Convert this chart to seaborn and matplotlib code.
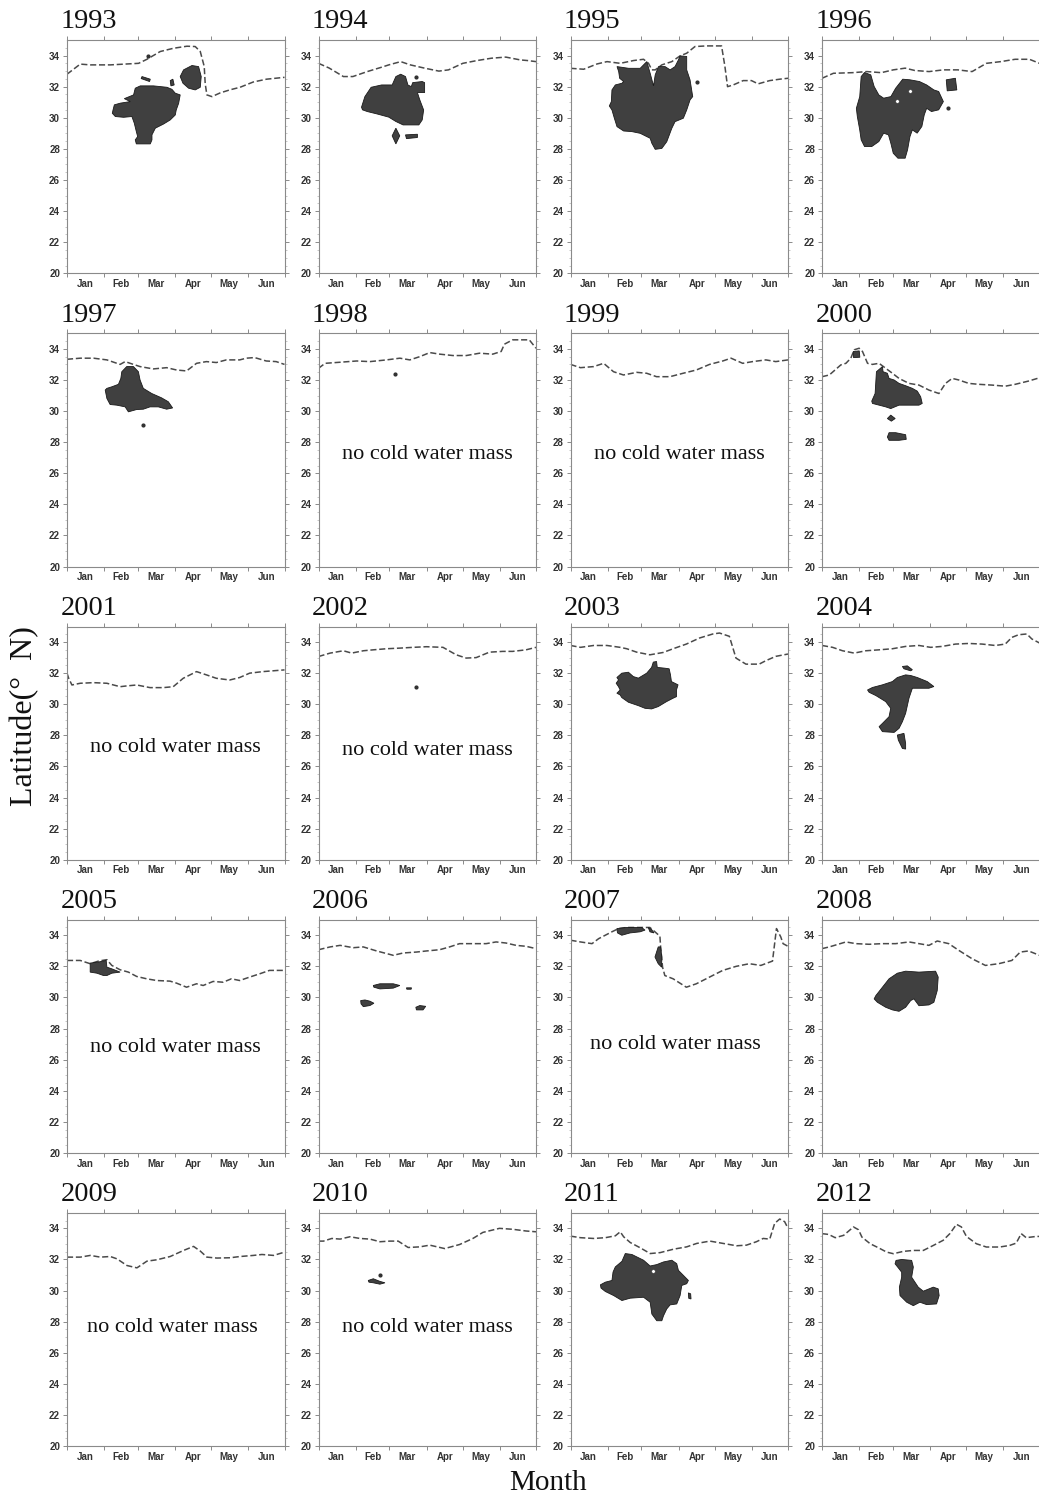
import matplotlib
matplotlib.use("Agg")
import matplotlib.pyplot as plt
import seaborn as sns
import pandas as pd
from matplotlib.ticker import FixedLocator, NullFormatter, FixedFormatter

# ---------------- data ----------------
years = list(range(1993, 2013))
month_names = ["Jan", "Feb", "Mar", "Apr", "May", "Jun"]
month_starts = [0, 31, 59, 90, 120, 151, 181]
month_mids = [15, 45, 74, 105, 135, 166]
lat_ticks = [20, 22, 24, 26, 28, 30, 32, 34]

# dashed boundary line (day of year, latitude)
line_days = {
    1993: [0, 11, 19.4, 36, 59.6, 66.5, 77.6, 88.7, 99.8, 106.7, 110.9, 114.2, 115, 116.4, 120.6, 127.5, 135.8, 144, 155, 166, 181],
    1994: [0, 8.8, 20.7, 28.6, 40.6, 52.5, 58.5, 68.4, 76.4, 88.3, 100.2, 108.2, 120.1, 132, 144, 155.9, 167.9, 173.8, 181],
    1995: [0, 11, 22.1, 30.4, 41.4, 52.5, 60.8, 64.9, 67.7, 70.5, 76, 84.3, 91.2, 96.7, 103.6, 113.3, 125.7, 128.5, 130.7, 135.4, 143.7, 150.6, 156.1, 165.8, 174.1, 181],
    1996: [0, 9.5, 25.5, 37.4, 49.3, 59.3, 69.2, 77.2, 89.1, 101, 113, 124.9, 136.8, 148.8, 160.7, 172.6, 181],
    1997: [0, 11, 22.1, 33.2, 44.2, 48.4, 55.3, 60.8, 71.8, 82.9, 91.2, 99.5, 107.8, 116, 124.3, 132.6, 143.7, 149.2, 156.1, 165.8, 174.1, 181],
    1998: [0, 5.5, 18, 31.8, 42.8, 56.6, 67.7, 76, 84.3, 92.6, 100.8, 111.9, 123, 134, 145, 152, 154.7, 161.6, 175.4, 181],
    1999: [0, 8.3, 19.3, 27.6, 35.8, 44.1, 55.1, 63.4, 71.6, 82.7, 93.7, 104.7, 115.7, 126.7, 133.6, 143.3, 151.5, 162.6, 170.8, 181],
    2000: [0, 6.1, 15.7, 19.9, 24, 26.8, 30.9, 33.7, 37.9, 42, 47.5, 53, 58.6, 64.1, 72.4, 80.7, 89, 97.3, 102.8, 108.3, 113.8, 122.1, 130.4, 141.5, 152.5, 160.8, 171.9, 181],
    2001: [0, 1.4, 4.1, 11, 22.1, 33.2, 44.2, 49.7, 58, 69.1, 80.1, 88.4, 96.7, 107.8, 116, 124.3, 135.4, 143.7, 152, 163, 171.3, 181],
    2002: [0, 9.7, 20.7, 27.6, 37.3, 45.6, 56.6, 67.7, 78.7, 89.8, 103.6, 114.6, 122.9, 131.2, 142.2, 153.3, 161.6, 172.7, 181],
    2003: [0, 8.3, 19.3, 30.3, 41.3, 46.8, 55.1, 66.1, 77.1, 85.4, 96.4, 107.4, 118.5, 124, 132.2, 137.7, 146, 157, 162.5, 170.8, 181],
    2004: [0, 8.8, 17.1, 26.8, 36.5, 47.5, 58.6, 69.6, 80.7, 90.4, 100, 111.1, 122.1, 133.2, 144.2, 152.5, 158, 163.6, 170.5, 174.6, 181],
    2005: [0, 11, 19.3, 26.2, 33.2, 37.3, 44.2, 51.1, 58, 66.3, 74.6, 85.7, 91.2, 99.5, 107.8, 113.3, 121.6, 129.9, 136.8, 143.7, 152, 160.3, 168.5, 181],
    2006: [0, 9.7, 18, 29, 37.3, 48.4, 62.2, 70.5, 81.5, 89.8, 100.8, 109.1, 117.4, 128.5, 139.5, 147.8, 156.1, 164.4, 172.7, 181],
    2007: [0, 8.3, 17.9, 23.4, 28.9, 34.4, 40, 46.8, 57.9, 66.1, 70.3, 74.4, 75, 76.6, 78.5, 85.4, 96.4, 104.7, 115.7, 126.7, 137.8, 148.8, 158.4, 168.1, 171.4, 175, 176.9, 181],
    2008: [0, 6.1, 19.9, 28.2, 39.2, 50.3, 61.3, 72.4, 80.7, 89, 95.9, 105.5, 113.8, 124.9, 136, 147, 158, 165, 171.9, 181],
    2009: [0, 11.1, 19.4, 27.7, 36, 41.6, 49.9, 58.2, 66.5, 74.8, 85.9, 97, 105.3, 110.9, 116.4, 124.7, 135.8, 144.1, 155.2, 162.2, 171.9, 181],
    2010: [0, 4.1, 11.1, 18, 26.2, 34.5, 42.8, 51.1, 59.4, 66.3, 74.6, 84.3, 92.6, 105, 117.4, 128.5, 136.8, 150.6, 161.6, 172.7, 181],
    2011: [0, 8.3, 19.3, 29, 37.3, 41.4, 44.2, 49.7, 58, 66.3, 74.6, 85.7, 96.7, 105, 116, 127.1, 138.2, 146.4, 154.7, 160.3, 165.8, 169.9, 174.1, 178.2, 181],
    2012: [0, 5.5, 11, 18, 26.2, 30.4, 33.2, 40.1, 47, 53.9, 59.4, 67.7, 76, 84.3, 92.6, 100.8, 106.4, 111.9, 116, 120.2, 128.5, 136.8, 147.8, 156.1, 161.6, 165.8, 169.9, 178.2, 181],
}
line_lat = {
    1993: [32.8, 33.45, 33.4, 33.4, 33.5, 33.76, 34.26, 34.47, 34.6, 34.58, 34.26, 33.3, 32.2, 31.47, 31.36, 31.6, 31.8, 31.96, 32.3, 32.48, 32.6],
    1994: [33.5, 33.2, 32.65, 32.65, 32.97, 33.25, 33.4, 33.61, 33.4, 33.19, 33.0, 33.08, 33.5, 33.68, 33.83, 33.9, 33.72, 33.68, 33.61],
    1995: [33.18, 33.12, 33.46, 33.61, 33.5, 33.68, 33.76, 33.5, 33.08, 33.08, 33.4, 33.61, 33.98, 34.15, 34.58, 34.62, 34.62, 33.3, 32.0, 32.11, 32.39, 32.39, 32.18, 32.39, 32.48, 32.54],
    1996: [32.54, 32.86, 32.9, 32.97, 32.9, 33.08, 33.19, 33.04, 32.97, 33.08, 33.08, 32.97, 33.5, 33.61, 33.76, 33.76, 33.5],
    1997: [33.33, 33.4, 33.4, 33.29, 33.0, 33.18, 33.0, 32.86, 32.71, 32.79, 32.64, 32.58, 33.07, 33.18, 33.12, 33.29, 33.29, 33.4, 33.44, 33.22, 33.18, 33.0],
    1998: [32.75, 33.07, 33.14, 33.22, 33.18, 33.29, 33.4, 33.29, 33.5, 33.76, 33.66, 33.57, 33.57, 33.72, 33.66, 33.83, 34.3, 34.58, 34.58, 34.04],
    1999: [33.0, 32.79, 32.86, 33.07, 32.53, 32.32, 32.49, 32.43, 32.21, 32.21, 32.43, 32.64, 33.0, 33.22, 33.4, 33.07, 33.18, 33.29, 33.18, 33.29],
    2000: [32.21, 32.32, 32.97, 33.07, 33.4, 33.94, 34.04, 33.83, 33.07, 33.0, 33.07, 32.75, 32.43, 32.1, 31.78, 31.67, 31.35, 31.13, 31.78, 32.1, 32.0, 31.78, 31.72, 31.67, 31.6, 31.72, 31.93, 32.14],
    2001: [32.0, 31.67, 31.24, 31.35, 31.39, 31.35, 31.13, 31.18, 31.24, 31.07, 31.07, 31.13, 31.67, 32.1, 31.89, 31.67, 31.56, 31.72, 32.0, 32.1, 32.15, 32.21],
    2002: [33.07, 33.29, 33.44, 33.29, 33.44, 33.5, 33.57, 33.61, 33.66, 33.7, 33.66, 33.18, 32.97, 33.0, 33.35, 33.4, 33.4, 33.5, 33.66],
    2003: [33.78, 33.66, 33.78, 33.78, 33.66, 33.57, 33.35, 33.18, 33.33, 33.57, 33.87, 34.26, 34.52, 34.58, 34.37, 32.97, 32.58, 32.58, 32.8, 33.08, 33.23],
    2004: [33.78, 33.66, 33.44, 33.29, 33.44, 33.5, 33.57, 33.72, 33.78, 33.66, 33.72, 33.87, 33.91, 33.87, 33.78, 33.87, 34.3, 34.47, 34.52, 34.2, 33.94],
    2005: [32.38, 32.38, 32.17, 32.34, 32.43, 32.06, 31.78, 31.63, 31.35, 31.2, 31.09, 31.05, 30.92, 30.66, 30.88, 30.77, 31.03, 30.98, 31.2, 31.09, 31.31, 31.52, 31.74, 31.74],
    2006: [33.07, 33.25, 33.35, 33.2, 33.25, 32.99, 32.71, 32.86, 32.92, 32.99, 33.07, 33.25, 33.46, 33.46, 33.46, 33.57, 33.5, 33.35, 33.29, 33.14],
    2007: [33.68, 33.57, 33.46, 33.78, 34.0, 34.22, 34.43, 34.5, 34.5, 34.5, 34.22, 33.94, 33.25, 31.95, 31.41, 31.2, 30.66, 30.88, 31.31, 31.74, 32.0, 32.17, 32.06, 32.34, 34.43, 33.89, 33.46, 33.29],
    2008: [33.14, 33.25, 33.57, 33.46, 33.42, 33.46, 33.46, 33.57, 33.46, 33.35, 33.63, 33.46, 33.03, 32.49, 32.06, 32.17, 32.38, 32.92, 32.99, 32.71],
    2009: [32.15, 32.15, 32.26, 32.15, 32.19, 32.04, 31.61, 31.46, 31.89, 31.98, 32.19, 32.58, 32.84, 32.54, 32.15, 32.09, 32.11, 32.19, 32.26, 32.32, 32.26, 32.47],
    2010: [33.18, 33.18, 33.35, 33.31, 33.46, 33.35, 33.31, 33.14, 33.18, 33.18, 32.77, 32.81, 32.92, 32.7, 32.96, 33.35, 33.74, 34.0, 33.94, 33.83, 33.78],
    2011: [33.5, 33.4, 33.35, 33.4, 33.52, 33.78, 33.46, 33.09, 32.75, 32.38, 32.44, 32.66, 32.81, 33.03, 33.18, 33.03, 32.88, 32.92, 33.14, 33.35, 33.31, 34.32, 34.6, 34.43, 34.0],
    2012: [33.66, 33.61, 33.4, 33.55, 34.09, 33.91, 33.44, 33.01, 32.75, 32.47, 32.37, 32.52, 32.58, 32.58, 32.9, 33.23, 33.66, 34.26, 34.09, 33.48, 33.01, 32.8, 32.8, 32.9, 33.05, 33.66, 33.4, 33.48, 33.48],
}

# cold water mass regions: polygons of (day, latitude)
blobs = {
    1993: [
        [(38.3, 30.5), (39.4, 30.83), (44.4, 30.94), (52.7, 31.04), (47.7, 31.23), (55.4, 31.47), (56.8, 31.9), (61, 32.05),
         (72, 32.05), (83.2, 31.96), (87.3, 31.83), (90.1, 31.58), (94.2, 31.47), (92.9, 30.93), (90.9, 30.5), (90.1, 30.18),
         (85.9, 29.86), (80.4, 29.6), (73.5, 29.33), (70.7, 28.9), (70.7, 28.58), (69.3, 28.32), (57.7, 28.32), (56.8, 28.58),
         (58.8, 28.79), (57.7, 29.11), (56, 29.65), (54, 30.08), (47.1, 30.03), (40.2, 30.08), (37.7, 30.29)],
        [(94.2, 32.65), (97, 33.08), (104, 33.36), (109.5, 33.29), (111.7, 32.65), (110.9, 31.96), (106.7, 31.79), (101.2, 31.9), (96.5, 32.22)],
        [(62.4, 32.65), (69.3, 32.48), (68.7, 32.33), (61.7, 32.52)],
        [(85.9, 32.39), (88.1, 32.48), (89.2, 32.11), (86.5, 32.05)],
    ],
    1994: [
        [(35.8, 30.68), (38.6, 31.36), (43.8, 31.96), (52.5, 32.11), (61.3, 32.11), (64.4, 32.65), (68.4, 32.8), (72.4, 32.65),
         (74.4, 32.11), (77.2, 32.0), (78.4, 32.26), (86.3, 32.33), (88.3, 32.26), (88.3, 31.62), (82.3, 31.62), (84.3, 31.15),
         (87.5, 30.5), (86.3, 29.86), (83.5, 29.54), (70.4, 29.54), (64.4, 29.76), (58.5, 30.04), (48.5, 30.25), (40.6, 30.4), (36.6, 30.51)],
        [(61.3, 28.84), (64.4, 29.33), (67.6, 28.84), (64.4, 28.32)],
        [(72.4, 28.9), (82.3, 28.94), (82.3, 28.73), (73.2, 28.66)],
    ],
    1995: [
        [(38.7, 33.29), (48.4, 33.18), (58.0, 33.18), (62.2, 33.51), (63.5, 33.61), (66.3, 32.86), (69.1, 32.05), (70.5, 32.76),
         (73.2, 33.29), (78.7, 33.29), (82.9, 33.08), (87.0, 33.29), (89.8, 33.72), (91.2, 33.98), (96.7, 33.94), (96.7, 33.08),
         (99.5, 32.43), (101.7, 31.36), (99.5, 31.15), (96.7, 30.5), (93.9, 29.97), (87.0, 29.75), (84.3, 29.32), (80.1, 28.46),
         (76.0, 28.03), (70.5, 27.97), (67.7, 28.36), (66.3, 28.68), (58.0, 29.0), (51.1, 29.11), (44.2, 29.15), (38.7, 29.43),
         (36.5, 29.97), (34.5, 30.5), (32.3, 30.76), (34.0, 31.04), (34.5, 31.79), (37.3, 32.11), (42.8, 32.22), (44.2, 32.33),
         (40.9, 32.54), (40.1, 32.97)],
    ],
    1996: [
        [(31.4, 31.36), (32.6, 32.65), (35.4, 32.91), (40.6, 32.76), (43.4, 32.01), (47.3, 31.47), (51.3, 31.26), (57.3, 31.36),
         (61.3, 31.9), (67.2, 32.48), (73.2, 32.44), (81.1, 32.33), (87.1, 32.11), (93.1, 31.79), (97.1, 31.69), (101.0, 31.04),
         (97.1, 30.51), (91.1, 30.4), (87.1, 30.61), (85.1, 30.19), (83.1, 29.44), (79.2, 29.01), (75.2, 29.22), (73.2, 28.79),
         (71.2, 27.94), (69.2, 27.4), (63.2, 27.4), (59.3, 27.72), (57.3, 28.36), (55.3, 28.9), (51.3, 29.01), (47.3, 28.47),
         (41.4, 28.15), (35.4, 28.15), (32.6, 28.58), (31.4, 29.22), (29.4, 30.08), (28.6, 30.61)],
        [(103.4, 32.44), (111, 32.54), (112.2, 31.79), (104.2, 31.73)],
    ],
    1997: [
        [(31.8, 31.35), (33.2, 31.46), (37.3, 31.56), (42.8, 31.72), (44.8, 32.1), (45.6, 32.53), (49.7, 32.86), (55.3, 32.86),
         (59.4, 32.53), (60.8, 32.0), (63.5, 31.46), (70.5, 31.13), (78.7, 30.85), (84.3, 30.6), (87.9, 30.2), (82.9, 30.12),
         (76.0, 30.27), (69.1, 30.27), (63.5, 30.12), (58.0, 30.1), (51.1, 29.95), (48.4, 30.27), (41.4, 30.38), (35.9, 30.42), (33.2, 30.81)],
    ],
    2000: [
        [(26, 33.83), (31, 33.87), (31.5, 33.46), (26.2, 33.44)],
        [(45.3, 32.53), (50.3, 32.86), (50.8, 32.53), (54.4, 32.43), (55.8, 32.1), (60, 32.0), (64.1, 31.78), (69.6, 31.63),
         (75.2, 31.46), (79.3, 31.28), (82.1, 30.92), (83.4, 30.49), (80.7, 30.38), (72.4, 30.38), (64.1, 30.38), (57.2, 30.16),
         (53.0, 30.27), (47.5, 30.38), (42.0, 30.49), (41.4, 30.64), (44.2, 31.13), (44.8, 31.89)],
        [(54.4, 29.52), (57.2, 29.74), (60.9, 29.52), (57.7, 29.35)],
        [(54.4, 28.33), (55.8, 28.61), (61.3, 28.61), (69.6, 28.48), (70.1, 28.18), (64.1, 28.12), (55.8, 28.12)],
    ],
    2003: [
        [(38.6, 31.72), (42.7, 32.0), (48.2, 32.06), (52.3, 31.78), (56.5, 31.68), (63.4, 32.0), (67.5, 32.37), (68.9, 32.71),
         (71.6, 32.75), (72.2, 32.37), (78.5, 32.32), (82.1, 32.28), (83.2, 31.89), (84.0, 31.46), (89.5, 31.25), (88.2, 30.92),
         (88.2, 30.49), (85.4, 30.39), (79.9, 30.17), (73.0, 29.85), (67.5, 29.7), (62.0, 29.74), (56.5, 29.91), (48.2, 30.13),
         (42.7, 30.43), (41.3, 30.6), (38.6, 30.71), (41.3, 30.92), (39.9, 31.14), (38.0, 31.35), (40.0, 31.57)],
    ],
    2004: [
        [(37.9, 30.92), (42.0, 31.08), (50.3, 31.25), (58.6, 31.46), (62.7, 31.72), (69.6, 31.89), (73.8, 31.85), (79.3, 31.72),
         (87.6, 31.46), (93.1, 31.14), (89.0, 31.03), (80.7, 31.03), (75.2, 31.03), (72.4, 30.39), (69.6, 29.42), (66.9, 28.88),
         (64.1, 28.45), (60.0, 28.19), (50.3, 28.24), (47.5, 28.56), (50.3, 28.77), (55.8, 29.2), (57.2, 29.74), (53.0, 30.17),
         (44.8, 30.56), (39.2, 30.77)],
        [(62.7, 28.02), (68.2, 28.13), (69.6, 27.48), (69.6, 27.12), (66.9, 27.16), (63.5, 27.7)],
        [(66.9, 32.43), (71, 32.47), (75.2, 32.22), (73.8, 32.15), (68.2, 32.28)],
    ],
    2005: [
        [(19.3, 32.21), (26.2, 32.28), (32.6, 32.38), (33.2, 31.95), (37.3, 31.84), (44.2, 31.63), (37.3, 31.56), (33.2, 31.41),
         (30.4, 31.41), (24.9, 31.56), (19.3, 31.63)],
    ],
    2006: [
        [(35.1, 29.8), (38.7, 29.84), (42.8, 29.76), (46.1, 29.63), (42.8, 29.48), (37.3, 29.41), (35.4, 29.59)],
        [(45.6, 30.77), (51.1, 30.88), (62.2, 30.88), (67.7, 30.77), (62.2, 30.6), (51.1, 30.55), (46.1, 30.66)],
        [(73.2, 30.62), (77.4, 30.62), (77.1, 30.53), (73.5, 30.53)],
        [(81, 29.37), (84.3, 29.48), (89.2, 29.43), (87, 29.2), (81.5, 29.2)],
    ],
    2007: [
        [(38.6, 34.43), (46.8, 34.5), (59.2, 34.5), (62, 34.33), (57.9, 34.22), (49.6, 34.15), (42.7, 34.0), (39.1, 34.15)],
        [(64.7, 34.5), (67.5, 34.37), (69.4, 34.15), (66.1, 34.22)],
        [(73, 33.25), (75, 33.25), (76, 32.6), (75.8, 31.95), (73, 32.17), (70.3, 32.6)],
    ],
    2008: [
        [(44.8, 30.12), (50.3, 30.66), (55.8, 31.2), (62.7, 31.56), (69.6, 31.69), (80.7, 31.63), (94.5, 31.69), (96.7, 31.31),
         (95.9, 30.44), (93.1, 29.69), (89.0, 29.52), (80.7, 29.47), (76.5, 29.91), (73.8, 29.8), (69.6, 29.37), (64.1, 29.11),
         (58.6, 29.2), (53.0, 29.37), (46.1, 29.69), (43.4, 29.91)],
    ],
    2010: [
        [(41.4, 30.65), (45.6, 30.76), (51.1, 30.59), (55.3, 30.5), (51.1, 30.41), (45.6, 30.5), (42, 30.54)],
    ],
    2011: [
        [(24.9, 30.37), (29.0, 30.54), (34.5, 30.65), (35.4, 31.19), (37.3, 31.52), (42.8, 31.88), (45.6, 32.38), (51.1, 32.32),
         (60.8, 31.95), (66.3, 31.58), (71.8, 31.67), (77.4, 31.84), (84.3, 31.95), (88.4, 31.73), (89.8, 31.3), (93.9, 30.98),
         (98.1, 30.65), (96.7, 30.44), (92.6, 30.33), (91.2, 29.68), (88.4, 29.14), (82.9, 29.08), (80.1, 28.82), (77.4, 28.38),
         (76.0, 28.06), (71.8, 28.06), (67.7, 28.49), (66.3, 29.25), (60.8, 29.57), (49.7, 29.51), (42.8, 29.36), (35.9, 29.68),
         (29.0, 29.94), (25.4, 30.16)],
        [(98.1, 29.85), (100, 29.79), (100.3, 29.46), (98.4, 29.5)],
    ],
    2012: [
        [(61.6, 31.94), (66.3, 32.0), (74.6, 31.94), (76.0, 31.51), (74.6, 30.86), (80.1, 30.22), (84.3, 29.96), (92.6, 30.22),
         (96.7, 30.11), (97.5, 29.68), (95.3, 29.14), (87.0, 29.1), (81.5, 29.25), (76.0, 29.03), (70.5, 29.25), (64.9, 29.68),
         (64.4, 30.22), (66.3, 30.86), (66.3, 31.18), (63.5, 31.46), (60.8, 31.72)],
    ],
}
# tiny isolated spots (day, latitude)
dots = {1993: [(67, 34.0)], 1994: [(81, 32.6)], 1995: [(105, 32.28)], 1996: [(105, 30.6)],
        1997: [(63, 29.1)], 1998: [(63.5, 32.36)], 2002: [(81, 31.14)], 2010: [(51, 30.97)]}
# small gaps inside regions (day, latitude)
holes = {1996: [(73.2, 31.7), (62, 31.05)], 2011: [(69, 31.24)]}
# panels labelled "no cold water mass": (day, latitude) of label centre
no_cwm = {1998: (90.5, 27.2), 1999: (90.5, 27.2), 2001: (90, 27.2), 2002: (90.5, 27.0),
          2005: (90.5, 26.8), 2007: (87, 27.0), 2009: (88, 27.6), 2010: (90.5, 27.6)}

# ---------------- figure ----------------
sns.set_theme(style="white")
plt.rcParams["font.family"] = ["Liberation Sans", "DejaVu Sans"]

W, H = 1039, 1498
fig = plt.figure(figsize=(W / 100, H / 100), dpi=100)

col_left = [67, 318.5, 570.5, 822]
row_top = [40, 333.3, 626.5, 919.7, 1212.8]
ax_w, ax_h = 217.5, 233.3

spine_col = "#8a8a8a"
line_col = "#4a4a4a"
blob_col = "#404040"
serif = ["Liberation Serif", "DejaVu Serif"]

for i, yr in enumerate(years):
    r, c = divmod(i, 4)
    ax = fig.add_axes([col_left[c] / W, 1 - (row_top[r] + ax_h) / H, ax_w / W, ax_h / H])

    df = pd.DataFrame({"day": line_days[yr], "lat": line_lat[yr]})
    sns.lineplot(data=df, x="day", y="lat", ax=ax, color=line_col, lw=1.1,
                 sort=False, estimator=None)
    ax.lines[-1].set_dashes([4, 1.8])

    for poly in blobs.get(yr, []):
        xs = [p[0] for p in poly]
        ys = [p[1] for p in poly]
        ax.fill(xs, ys, facecolor=blob_col, edgecolor="#1a1a1a", lw=0.6, zorder=3)
    for (dx, dy) in dots.get(yr, []):
        ax.plot([dx], [dy], marker="o", ms=2, color="#303030", zorder=4)
    for (hx, hy) in holes.get(yr, []):
        ax.plot([hx], [hy], marker="o", ms=2.6, color="white", mec="#303030", mew=0.3, zorder=5)

    if yr in no_cwm:
        tx, ty = no_cwm[yr]
        ax.text(tx, ty, "no cold water mass", ha="center", va="center",
                fontsize=16, family=serif, color="#111111")

    ax.set_xlim(0, 181)
    ax.set_ylim(20, 35)
    ax.set_xlabel("")
    ax.set_ylabel("")

    ax.xaxis.set_major_locator(FixedLocator(month_starts))
    ax.xaxis.set_major_formatter(NullFormatter())
    ax.xaxis.set_minor_locator(FixedLocator(month_mids))
    ax.xaxis.set_minor_formatter(FixedFormatter(month_names))
    ax.yaxis.set_major_locator(FixedLocator(lat_ticks))
    ax.set_yticklabels([str(v) for v in lat_ticks])
    ax.yaxis.set_minor_locator(FixedLocator([v / 2 for v in range(40, 70)]))

    ax.tick_params(axis="x", which="major", direction="out", length=3.2, width=0.7,
                   color=spine_col, top=True, bottom=True)
    ax.tick_params(axis="x", which="minor", length=0, pad=4.0, labelsize=7,
                   labelcolor="#333333", top=False)
    ax.tick_params(axis="y", which="major", direction="out", length=3, width=0.7,
                   color=spine_col, left=True, right=True, pad=2.0, labelsize=7,
                   labelcolor="#333333")
    ax.tick_params(axis="y", which="minor", direction="out", length=1.4, width=0.5,
                   color="#b0b0b0", left=True, right=True)
    for lab in ax.get_xticklabels(minor=True) + ax.get_yticklabels():
        lab.set_fontweight("bold")

    for sp in ax.spines.values():
        sp.set_visible(True)
        sp.set_color(spine_col)
        sp.set_linewidth(0.8)

    ax.text(-0.03, 1.05, str(yr), transform=ax.transAxes, ha="left", va="baseline",
            fontsize=20.5, family=serif, color="#111111")

fig.text(25 / W, 1 - 716 / H, "Latitude(°  N)", rotation=90, ha="center", va="center",
         fontsize=23, family=serif, color="#111111")
fig.text(548 / W, 1 - 1483 / H, "Month", ha="center", va="center",
         fontsize=21, family=serif, color="#111111")

fig.savefig("out.png", dpi=100)
